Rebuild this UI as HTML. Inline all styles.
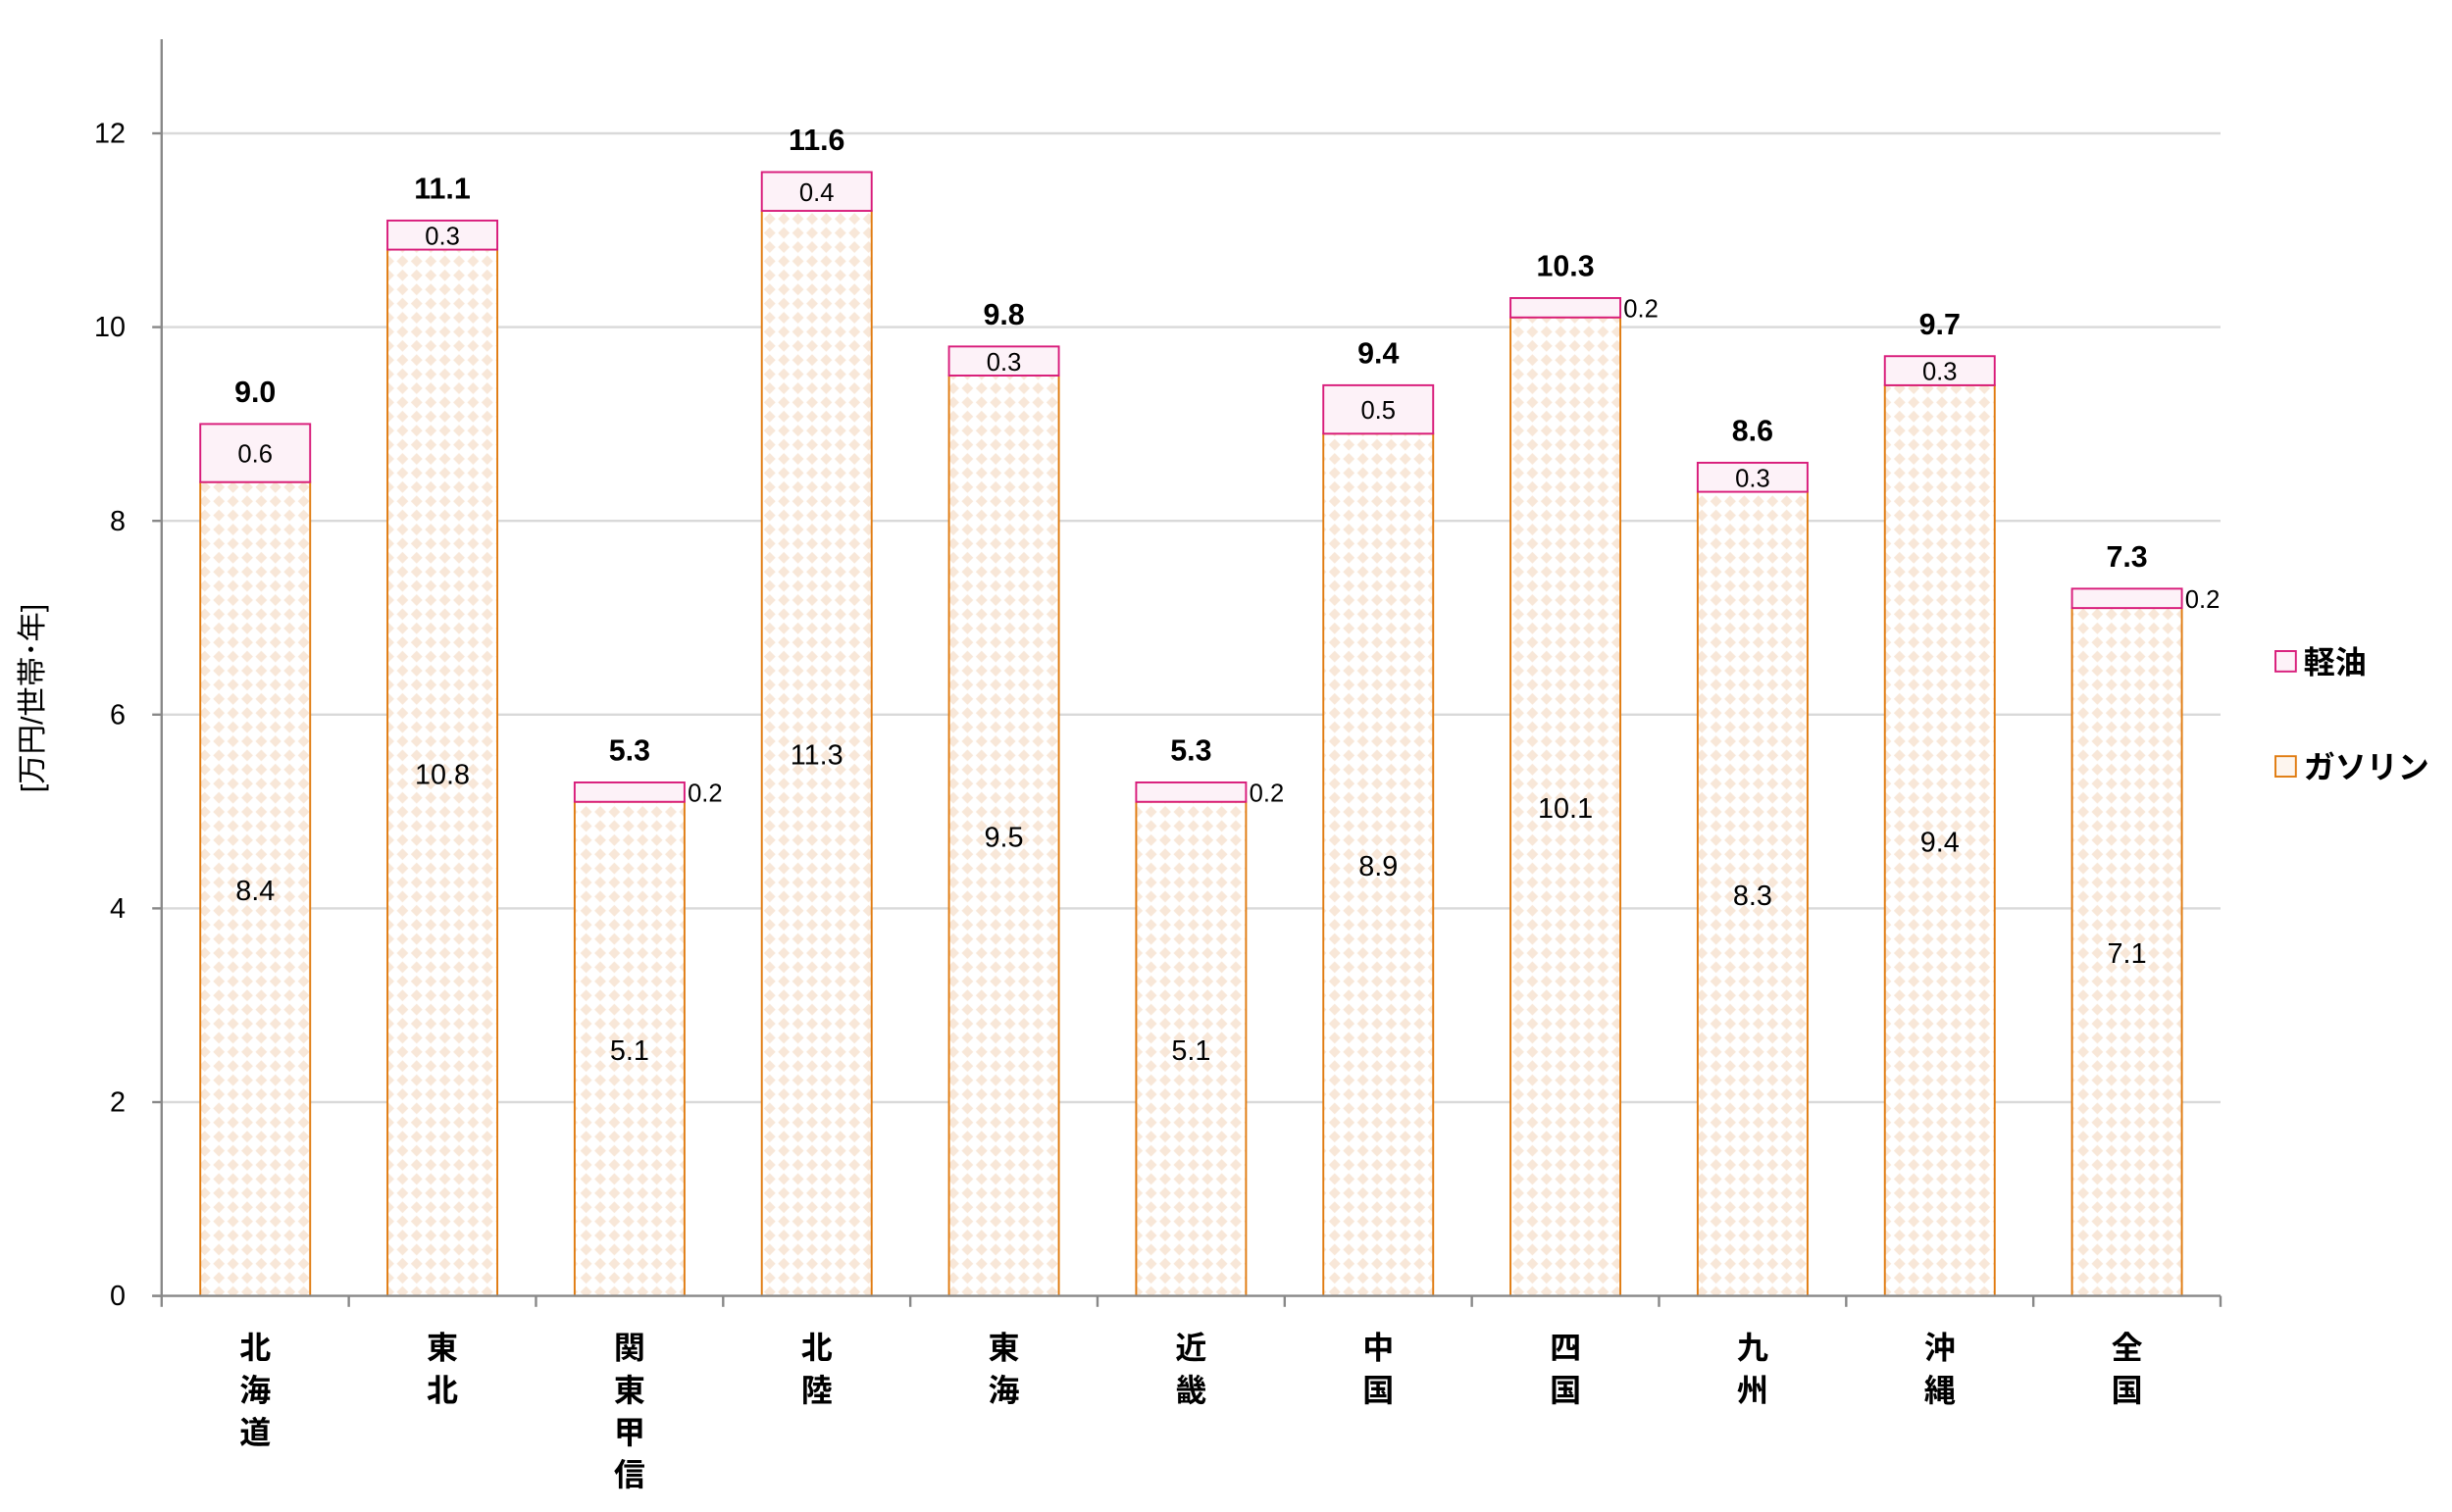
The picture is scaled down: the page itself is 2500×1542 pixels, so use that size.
<!DOCTYPE html>
<html><head><meta charset="utf-8">
<style>html,body{margin:0;padding:0;background:#fff;}svg{display:block}</style></head>
<body>
<svg id="c" width="2500" height="1542" viewBox="0 0 1562.5 963.75" xmlns="http://www.w3.org/2000/svg" font-family="'Liberation Sans','Noto Sans CJK JP',sans-serif">
<defs>
<pattern id="dia" width="9" height="9" patternUnits="userSpaceOnUse">
<rect width="9" height="9" fill="#ffffff"/>
<polygon points="4.5,0.8 8.2,4.5 4.5,8.2 0.8,4.5" fill="#f8e7d8"/>
</pattern>
</defs>
</svg>
<script>
const s=document.getElementById('c');const NS='http://www.w3.org/2000/svg';
function el(t,a,txt){const e=document.createElementNS(NS,t);for(const k in a)e.setAttribute(k,a[k]);if(txt!=null)e.textContent=txt;s.appendChild(e);return e;}
const X0=103,X1=1415,Y0=826,U=61.75;const W=(X1-X0)/11;
for(let v=2;v<=12;v+=2){const y=Y0-v*U;el('line',{x1:X0,x2:X1,y1:y,y2:y,stroke:'#d9d9d9','stroke-width':1.5});}
for(let v=0;v<=12;v+=2){const y=Y0-v*U;el('line',{x1:X0-6,x2:X0,y1:y,y2:y,stroke:'#888','stroke-width':1.5});el('text',{x:80,y:y+6,'text-anchor':'end','font-size':18,fill:'#000'},String(v));}
const gas=[8.4,10.8,5.1,11.3,9.5,5.1,8.9,10.1,8.3,9.4,7.1];
const die=[0.6,0.3,0.2,0.4,0.3,0.2,0.5,0.2,0.3,0.3,0.2];
const tot=['9.0','11.1','5.3','11.6','9.8','5.3','9.4','10.3','8.6','9.7','7.3'];
const cats=['北海道','東北','関東甲信','北陸','東海','近畿','中国','四国','九州','沖縄','全国'];
for(let i=0;i<11;i++){
 const cx=X0+W*(i+0.5),bw=70,bx=cx-bw/2;const T=parseFloat(tot[i]);const g=T-die[i];
 const yg=Y0-g*U,yt=Y0-T*U;
 el('rect',{x:bx,y:yg,width:bw,height:Y0-yg,fill:'url(#dia)',stroke:'#e07b10','stroke-width':1.2});
 el('rect',{x:bx,y:yt,width:bw,height:yg-yt,fill:'#fdf2f8',stroke:'#d81b7a','stroke-width':1.2});
 el('text',{x:cx,y:(Y0+yg)/2+7,'text-anchor':'middle','font-size':18},gas[i].toFixed(1));
 if(die[i]>=0.3) el('text',{x:cx,y:(yg+yt)/2+6,'text-anchor':'middle','font-size':16},die[i].toFixed(1));
 else el('text',{x:bx+bw+2,y:(yg+yt)/2+6,'font-size':16},die[i].toFixed(1));
 el('text',{x:cx,y:yt-14,'text-anchor':'middle','font-size':19,'font-weight':'bold'},tot[i]);
 [...cats[i]].forEach((ch,j)=>el('text',{x:cx,y:866+j*27,'text-anchor':'middle','font-size':20,'font-weight':'bold'},ch));
}
el('line',{x1:X0,x2:X0,y1:25,y2:Y0,stroke:'#888','stroke-width':1.5});
el('line',{x1:X0-6,x2:X1,y1:Y0,y2:Y0,stroke:'#888','stroke-width':1.5});
for(let i=0;i<=11;i++){const x=X0+W*i;el('line',{x1:x,x2:x,y1:Y0,y2:Y0+7,stroke:'#888','stroke-width':1.5});}
el('text',{x:0,y:0,transform:'translate(27,445) rotate(-90)','text-anchor':'middle','font-size':19},'[万円/世帯･年]');
el('rect',{x:1450,y:415,width:13,height:13,fill:'#fdf2f8',stroke:'#d81b7a','stroke-width':1.2});
el('text',{x:1468,y:429,'font-size':20,'font-weight':'bold'},'軽油');
el('rect',{x:1450,y:482,width:13,height:13,fill:'#fdf5ee',stroke:'#e07b10','stroke-width':1.2});
el('text',{x:1468,y:496,'font-size':20,'font-weight':'bold'},'ガソリン');
</script>
</body></html>
